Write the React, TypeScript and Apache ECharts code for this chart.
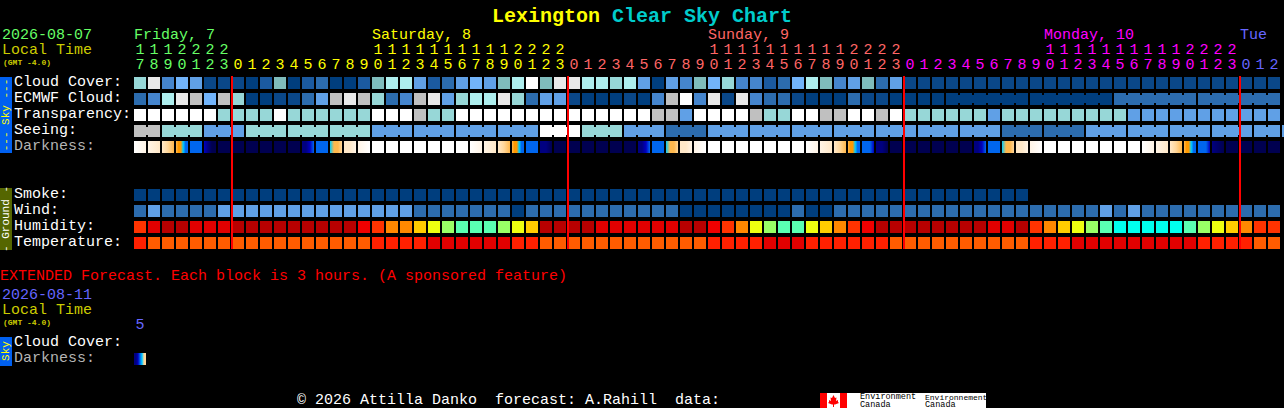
import React, { useEffect, useRef } from "react";
import * as echarts from "echarts";

const FONT = "'Liberation Mono', monospace";

const hourLabels = [
  "17","18","19","20","21","22","23",
  "0","1","2","3","4","5","6","7","8","9","10","11","12","13","14","15","16","17","18","19","20","21","22","23",
  "0","1","2","3","4","5","6","7","8","9","10","11","12","13","14","15","16","17","18","19","20","21","22","23",
  "0","1","2","3","4","5","6","7","8","9","10","11","12","13","14","15","16","17","18","19","20","21","22","23",
  "0","1","2",
];
const dayHourCounts = [7, 24, 24, 24, 3];
const dayColors = ["#66ff66", "#ffff00", "#ff6666", "#ff00ff", "#6666ff"];
const dayHeaders = [
  { text: "Friday, 7", col: 0 },
  { text: "Saturday, 8", col: 17 },
  { text: "Sunday, 9", col: 41 },
  { text: "Monday, 10", col: 65 },
  { text: "Tue", col: 79 },
];

const skyRows = ["Cloud Cover:", "ECMWF Cloud:", "Transparency:", "Seeing:", "Darkness:"];
const groundRows = ["Smoke:", "Wind:", "Humidity:", "Temperature:"];
const extendedRows = ["Cloud Cover:", "Darkness:"];
const extendedHours = ["5"];
const midnightCols = [7, 31, 55, 79];

const skyPalette = [
  "#003e7e", "#0a4788", "#1b5aa0", "#2c6cae", "#4585cd", "#60a0e6", "#72b4fa",
  "#7fbcbc", "#97d7d7", "#aeeeee", "#c0c0c0", "#e9e9e9", "#ffffff",
];
const humidityPalette = [
  "#b80000", "#e20000", "#f00000", "#ff3300", "#ff8800", "#ffcc00",
  "#eeff10", "#99ff66", "#5affb2", "#00ffee",
];
const temperaturePalette = ["#ff5c00", "#ff2000", "#e20000"];
const darknessPalette = [
  "#000050", "#000080", "#0000c0", "#0066ee", "#00ccff", "#ff9900",
  "#ffb84d", "#ffd699", "#ffe8c8", "#fff4e6", "#ffffff",
];

const cloudCover = [
  8,11,4,6,5,1,1,1,0,2,7,0,2,3,0,0,2,7,9,9,5,
  2,3,5,6,5,7,9,12,7,11,11,9,9,8,9,5,0,5,4,7,6,8,4,4,2,3,6,9,7,4,5,
  7,3,5,1,1,1,1,1,1,1,1,1,1,1,1,1,1,1,1,1,1,1,1,1,1,1,1,1,1,1,
];
const ecmwfCloud = [
  3,4,9,11,10,6,10,8,0,0,1,1,3,5,10,11,10,8,3,4,10,
  11,5,8,9,9,11,8,3,5,5,1,0,0,0,1,0,4,10,12,4,11,1,11,4,3,3,1,0,0,0,3,
  1,1,0,0,0,0,0,0,0,0,0,0,0,0,0,0,0,0,3,3,3,3,3,3,3,3,3,3,3,3,
];
const transparency = [
  12,12,12,12,12,12,8,8,8,8,12,8,8,8,8,8,8,12,12,12,10,
  8,8,12,12,12,12,12,12,12,12,12,12,12,12,12,12,10,10,5,12,12,12,12,10,8,8,12,12,10,10,12,
  12,10,12,8,8,8,8,8,8,5,8,8,8,8,8,8,8,8,8,5,5,5,5,5,5,5,5,5,5,5,
];
const seeing = [
  10,10,8,8,8,5,5,5,8,8,8,8,8,8,8,8,8,5,5,5,5,5,5,5,5,5,5,5,5,
  12,12,12,8,8,8,5,5,5,3,3,3,5,5,5,5,5,5,5,5,5,5,5,5,
  5,5,5,5,5,5,5,5,5,3,3,3,3,3,3,5,5,5,5,5,5,5,5,5,5,5,5,5,5,5,
];
const smoke = [
  0,0,0,0,0,0,0,0,0,0,0,0,0,0,0,0,0,0,0,0,0,0,0,0,0,0,0,0,0,0,0,0,
  0,0,0,0,0,0,0,0,0,0,0,0,0,0,0,0,0,0,0,0,0,0,0,0,0,0,0,0,0,0,0,0,
];
const wind = [
  3,5,3,3,3,3,5,5,5,5,5,5,5,5,5,5,5,5,5,5,3,
  3,3,3,3,3,3,0,3,3,3,3,3,3,3,3,3,3,3,0,0,0,0,0,0,0,0,3,0,0,3,3,
  3,3,3,3,3,3,3,3,3,3,3,3,3,3,3,3,3,5,3,5,3,3,3,3,3,3,3,3,3,3,
];
const humidity = [
  3,1,0,0,1,1,1,0,0,0,0,0,0,0,0,0,2,3,4,4,5,
  6,7,8,8,8,7,6,5,0,0,0,0,1,1,1,1,1,1,0,0,2,3,4,6,7,8,8,6,5,4,3,
  2,0,0,0,0,0,0,0,0,1,1,0,3,4,5,6,7,8,9,9,9,9,9,8,7,6,5,4,3,3,
];
const temperature = [
  1,0,0,0,0,0,0,0,0,0,0,0,0,0,0,0,0,1,1,1,1,
  2,2,2,2,2,2,1,1,0,0,0,0,0,0,0,0,0,0,0,0,1,1,1,1,2,2,2,1,1,1,1,
  1,1,0,0,0,0,0,0,0,0,0,0,1,1,1,2,2,2,2,2,2,2,2,2,1,1,1,1,0,0,
];

const night = [0];
const darkness = [
  [10,9],[9,8],[8,7,6],[6,5,5,4,3,3],[3],[2,1,0,0],
  night,night,night,night,night,night,
  [1,1,2,3],[3],[4,6,6,7],[8,8,9],[9,10],[10,10],
  [10],[10],[10],[10],[10],[10],
  [10,9],[9,8],[8,7,6],[6,5,5,4,3,3],[3],[1,1,0],
  night,night,night,night,night,night,
  [1,1,2,3],[3],[4,6,6,7],[8,8,9],[9,10],[10,10],
  [10],[10],[10],[10],[10],[10],
  [10,9],[9,8],[8,7,6],[6,5,5,4,3,3],[3,3,3,2],[1,1,0],
  night,night,night,night,night,night,
  [1,1,2,3],[3],[4,6,6,7],[8,8,9],[9,10],[10,10],
  [10],[10],[10],[10],[10],[10],
  [10,9],[9,8],[8,7,6],[6,5,5,4,3,3],[3,3,3,2],[1,0],
  night,night,night,night,
];
const extendedDarkness = [[1,1,2,3,4,7,7]];

const ecmwfRuns = [[58,6],[64,6],[70,6],[76,6]];
const seeingRuns = [
  [0,2],[2,3],[5,3],[8,3],[11,3],[14,3],[17,3],[20,3],[23,3],[26,3],[29,3],[32,3],[35,3],[38,3],
  [41,3],[44,3],[47,3],[50,3],[53,3],[56,3],[59,3],[62,3],[65,3],[68,3],[71,3],[74,3],[77,3],[80,2],
];

const hourItems = (() => {
  const items: any[] = [];
  let k = 0;
  dayHourCounts.forEach((n, d) => {
    for (let j = 0; j < n; j++, k++) {
      const h = hourLabels[k];
      items.push({
        value: (h.length > 1 ? h[0] + "\n" + h[1] : h),
        textStyle: { color: dayColors[d] },
      });
    }
  });
  return items;
})();

const rowItems = (rows: string[]) =>
  rows.map((r) => ({
    value: r,
    textStyle: {
      color: r === "Darkness:" ? "#b4b4b4" : "#ffffff",
      align: "left",
      verticalAlign: "bottom",
    },
  }));

function joinFlags(len: number, runs: number[][]) {
  const flags = new Array(len).fill(0);
  runs.forEach(([s, n]) => {
    for (let i = s; i < s + n - 1; i++) flags[i] = 1;
  });
  return flags;
}

function cellSeries(
  name: string,
  grid: number,
  row: number,
  values: number[],
  palette: string[],
  runs: number[][] = []
) {
  const flags = joinFlags(values.length, runs);
  return {
    type: "custom",
    name,
    xAxisIndex: grid,
    yAxisIndex: grid,
    silent: true,
    clip: false,
    data: values.map((v, i) => [i, row, v, flags[i]]),
    renderItem: (_p: any, api: any) => {
      const c = api.coord([api.value(0), api.value(1)]);
      const s = api.size([1, 1]);
      const w = s[0] - 2;
      const h = s[1] - 4;
      const fill = palette[api.value(2)];
      const children: any[] = [
        { type: "rect", shape: { x: c[0] - w / 2, y: c[1] - h / 2, width: w, height: h }, style: { fill } },
      ];
      if (api.value(3)) {
        children.push({
          type: "rect",
          shape: { x: c[0] + w / 2, y: c[1] - (h - 4) / 2, width: s[0] - w, height: h - 4 },
          style: { fill },
        });
      }
      return { type: "group", children };
    },
  };
}

function darknessSeries(name: string, grid: number, row: number, cells: number[][]) {
  return {
    type: "custom",
    name,
    xAxisIndex: grid,
    yAxisIndex: grid,
    silent: true,
    clip: false,
    data: cells.map((_, i) => [i, row]),
    renderItem: (p: any, api: any) => {
      const c = api.coord([api.value(0), api.value(1)]);
      const s = api.size([1, 1]);
      const w = s[0] - 2;
      const h = s[1] - 4;
      const levels = cells[p.dataIndex];
      const fill =
        levels.length === 1
          ? darknessPalette[levels[0]]
          : new echarts.graphic.LinearGradient(
              0, 0, 1, 0,
              levels.map((l, k) => ({ offset: k / (levels.length - 1), color: darknessPalette[l] }))
            );
      return {
        type: "rect",
        shape: { x: c[0] - w / 2, y: c[1] - h / 2, width: w, height: h },
        style: { fill },
      };
    },
  };
}

const midnightSeries = {
  type: "custom",
  name: "Midnight",
  xAxisIndex: 2,
  yAxisIndex: 2,
  silent: true,
  clip: false,
  z: 10,
  data: midnightCols.map((c) => [c]),
  renderItem: (params: any, api: any) => {
    const c = api.coord([api.value(0), 0]);
    const band = api.size([1, 0])[0];
    return {
      type: "rect",
      shape: {
        x: c[0] - band / 2,
        y: params.coordSys.y,
        width: 2,
        height: params.coordSys.height,
      },
      style: { fill: "#ff0000" },
    };
  },
};

const mono = (text: string, x: number, y: number, fill: string, fontSize = 15, extra: any = {}) => ({
  type: "text",
  x,
  y,
  silent: true,
  style: { text, fill, fontFamily: FONT, fontSize, textVerticalAlign: "middle", ...extra },
});

const vertical = (text: string, x: number, y: number, fill: string, fontSize = 11) => ({
  type: "text",
  x,
  y,
  rotation: Math.PI / 2,
  silent: true,
  style: { text, fill, fontFamily: FONT, fontSize, align: "center", verticalAlign: "middle", textAlign: "center", textVerticalAlign: "middle" },
});

const leaf = [
  [833.5,395],[835,398],[836.5,397.5],[836,401],[838,400],[838,402],[839,403],[835,404.5],[834,404.5],[834,407],
  [833,407],[833,404.5],[832,404.5],[828,403],[829,402],[829,400],[831,401],[830.5,397.5],[832,398],
];

const graphicElements = [
  mono("2026-08-07", 2, 35, "#66ff66"),
  mono("Local Time", 2, 50.5, "#cccc00"),
  mono("(GMT -4.0)", 3, 62, "#cccc00", 8, { fontWeight: "bold" }),
  ...dayHeaders.map((d, i) => mono(d.text, 134 + d.col * 14, 35, dayColors[i])),
  { type: "rect", silent: true, shape: { x: 0, y: 77, width: 12, height: 76 }, style: { fill: "#0060f0" } },
  vertical("--- Sky ---", 6, 115, "#ffff00"),
  { type: "rect", silent: true, shape: { x: 0, y: 188, width: 12, height: 62 }, style: { fill: "#556600" } },
  vertical("- Ground -", 6, 219, "#ffffff"),
  mono("EXTENDED Forecast. Each block is 3 hours. (A sponsored feature)", 0, 276, "#ff0000"),
  mono("2026-08-11", 2, 295, "#6666ff"),
  mono("Local Time", 2, 310.5, "#cccc00"),
  mono("(GMT -4.0)", 3, 322, "#cccc00", 8, { fontWeight: "bold" }),
  { type: "rect", silent: true, shape: { x: 0, y: 337, width: 12, height: 29 }, style: { fill: "#0060f0" } },
  vertical("Sky", 6, 351, "#ffff00"),
  mono("\u00a9 2026 Attilla Danko  forecast: A.Rahill  data:", 297, 400, "#ffffff"),
  { type: "rect", silent: true, shape: { x: 820, y: 393, width: 166, height: 15 }, style: { fill: "#ffffff" } },
  { type: "rect", silent: true, shape: { x: 820, y: 393, width: 7, height: 15 }, style: { fill: "#ff0000" } },
  { type: "rect", silent: true, shape: { x: 840, y: 393, width: 7, height: 15 }, style: { fill: "#ff0000" } },
  { type: "polygon", silent: true, shape: { points: leaf }, style: { fill: "#ff0000" } },
  mono("Environment", 860, 397, "#000000", 8.5),
  mono("Canada", 860, 404.5, "#000000", 8.5),
  mono("Environnement", 925, 397, "#000000", 8),
  mono("Canada", 925, 404.5, "#000000", 8.5),
];

const hiddenCat = (data: any[], gridIndex: number) => ({
  type: "category",
  gridIndex,
  data,
  show: false,
});

const yLabelAxis = (rows: string[], gridIndex: number) => ({
  type: "category",
  gridIndex,
  inverse: true,
  data: rowItems(rows),
  axisLine: { show: false },
  axisTick: { show: false },
  splitLine: { show: false },
  axisLabel: {
    show: true,
    interval: 0,
    align: "left",
    margin: 119,
    lineHeight: 2,
    fontFamily: FONT,
    fontSize: 15,
    color: "#ffffff",
  },
});

const topLabels = (gridIndex: number, data: any[]) => ({
  type: "category",
  gridIndex,
  position: "top",
  data,
  axisLine: { show: false },
  axisTick: { show: false },
  splitLine: { show: false },
  axisLabel: {
    show: true,
    interval: 0,
    margin: 2,
    fontFamily: FONT,
    fontSize: 15,
    lineHeight: 15,
    hideOverlap: false,
  },
});

export default function App() {
  const ref = useRef<HTMLDivElement>(null);
  useEffect(() => {
    const chart = echarts.init(ref.current!, null, { renderer: "svg" });
    chart.setOption({
      animation: false,
      backgroundColor: "#000000",
      title: {
        text: "{a|Lexington }{b|Clear Sky Chart}",
        left: "center",
        top: 1,
        textStyle: {
          rich: {
            a: { color: "#ffff00", fontFamily: FONT, fontWeight: "bold", fontSize: 20 },
            b: { color: "#00cccc", fontFamily: FONT, fontWeight: "bold", fontSize: 20 },
          },
        },
      },
      grid: [
        { left: 133, top: 75, width: 1148, height: 80, outerBoundsMode: "none" },
        { left: 133, top: 187, width: 1148, height: 64, outerBoundsMode: "none" },
        { left: 133, top: 76, width: 1148, height: 173, outerBoundsMode: "none" },
        { left: 133, top: 335, width: 14, height: 32, outerBoundsMode: "none" },
      ],
      xAxis: [
        topLabels(0, hourItems),
        hiddenCat(hourLabels, 1),
        hiddenCat(hourLabels, 2),
        topLabels(3, extendedHours.map((h) => ({ value: h, textStyle: { color: "#6666ff" } }))),
      ],
      yAxis: [
        yLabelAxis(skyRows, 0),
        yLabelAxis(groundRows, 1),
        { type: "value", gridIndex: 2, min: 0, max: 1, show: false },
        yLabelAxis(extendedRows, 3),
      ],
      series: [
        cellSeries("Cloud Cover", 0, 0, cloudCover, skyPalette),
        cellSeries("ECMWF Cloud", 0, 1, ecmwfCloud, skyPalette, ecmwfRuns),
        cellSeries("Transparency", 0, 2, transparency, skyPalette),
        cellSeries("Seeing", 0, 3, seeing, skyPalette, seeingRuns),
        darknessSeries("Darkness", 0, 4, darkness),
        cellSeries("Smoke", 1, 0, smoke, skyPalette),
        cellSeries("Wind", 1, 1, wind, skyPalette),
        cellSeries("Humidity", 1, 2, humidity, humidityPalette),
        cellSeries("Temperature", 1, 3, temperature, temperaturePalette),
        darknessSeries("Extended Darkness", 3, 1, extendedDarkness),
        midnightSeries,
      ],
      graphic: { elements: graphicElements },
    } as any);
    return () => chart.dispose();
  }, []);
  return (
    <div
      ref={ref}
      style={{ position: "fixed", left: 0, top: 0, width: 1284, height: 408, background: "#000" }}
    />
  );
}
